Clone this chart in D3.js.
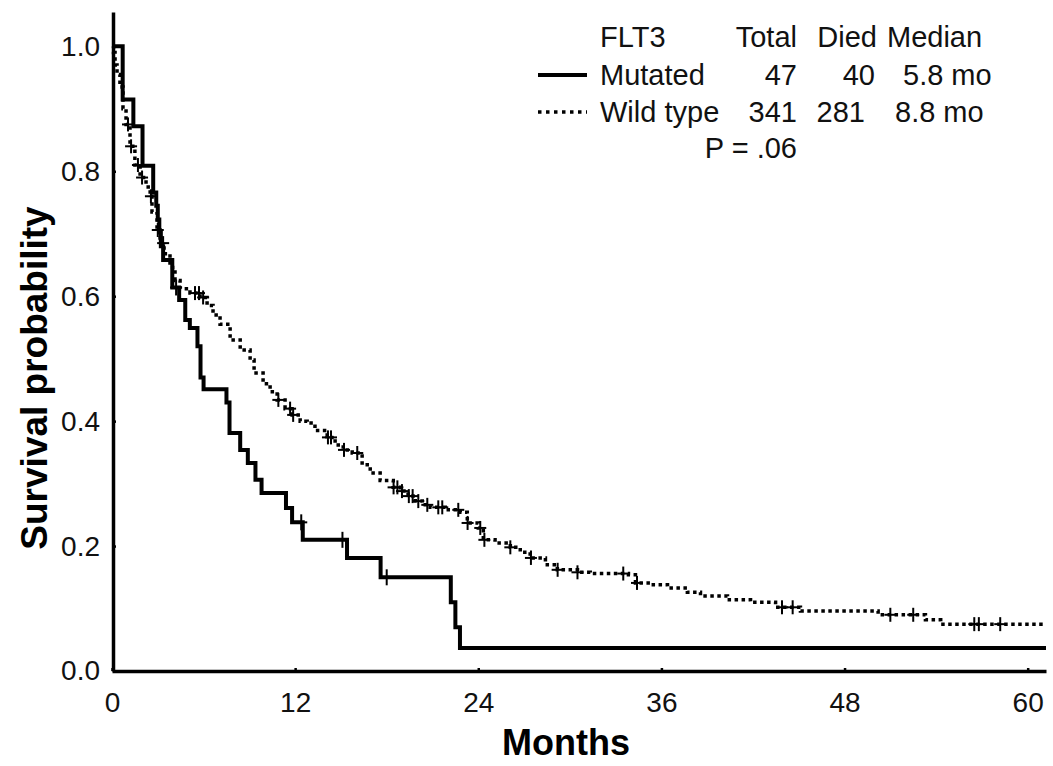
<!DOCTYPE html>
<html>
<head>
<meta charset="utf-8">
<script src="https://cdn.jsdelivr.net/npm/d3@7"></script>
<style>
  body { margin: 0; background: #fff; }
  svg { display: block; font-family: "Liberation Sans", Arial, sans-serif; }
</style>
</head>
<body>
<div id="chart"></div>
<script>
// Mutated (n=47) step curve: event times (months) and survival after each step
const mutTimes = [0, 0.7, 1.4, 2.0, 2.7, 2.9, 3.0, 3.1, 3.2, 3.35, 3.95, 4.4, 4.8, 5.1, 5.6, 5.8, 6.0, 7.5, 7.7, 8.4, 8.9, 9.4, 9.8, 11.4, 11.8, 12.5, 15.4, 17.6, 22.2, 22.5, 22.8];
const mutSurv = [1.0, 0.915, 0.872, 0.809, 0.766, 0.745, 0.723, 0.702, 0.68, 0.658, 0.614, 0.594, 0.562, 0.549, 0.52, 0.47, 0.451, 0.43, 0.381, 0.354, 0.333, 0.306, 0.285, 0.261, 0.238, 0.21, 0.181, 0.15, 0.11, 0.07, 0.037];
const mutCensor = [4.2, 12.4, 15.1, 18.0];

// Wild type (n=341)
const wildTimes = [0, 0.1, 0.2, 0.33, 0.52, 0.72, 0.92, 1.18, 1.5, 1.84, 2.23, 2.5, 2.62, 2.95, 3.15, 3.41, 3.8, 4.13, 4.46, 5.11, 5.77, 6.23, 6.62, 7.08, 7.74, 8.4, 9.05, 9.31, 9.9, 10.36, 10.82, 11.34, 11.8, 12.33, 12.79, 13.3, 14.1, 14.62, 15.15, 15.74, 16.39, 16.92, 17.57, 18.43, 18.9, 19.4, 19.87, 20.33, 20.85, 21.84, 22.82, 23.28, 24.0, 24.33, 25.1, 26.1, 26.75, 27.4, 28.4, 29.18, 30.5, 31.34, 33.84, 34.3, 35.28, 36.4, 37.7, 38.56, 40.33, 41.84, 43.48, 45.11, 50.2, 53.3, 54.3];
const wildSurv = [1.0, 0.99, 0.97, 0.955, 0.935, 0.90, 0.875, 0.84, 0.81, 0.79, 0.775, 0.76, 0.735, 0.706, 0.685, 0.668, 0.646, 0.625, 0.612, 0.605, 0.598, 0.585, 0.57, 0.555, 0.53, 0.514, 0.498, 0.477, 0.46, 0.447, 0.434, 0.42, 0.41, 0.40, 0.397, 0.385, 0.374, 0.362, 0.354, 0.349, 0.33, 0.317, 0.305, 0.294, 0.288, 0.28, 0.272, 0.266, 0.262, 0.258, 0.254, 0.237, 0.229, 0.21, 0.205, 0.198, 0.19, 0.181, 0.17, 0.162, 0.158, 0.156, 0.154, 0.141, 0.138, 0.133, 0.126, 0.12, 0.114, 0.11, 0.102, 0.096, 0.09, 0.082, 0.075];
const wildCensor = [1.05, 1.25, 1.7, 1.97, 2.55, 3.0, 3.35, 5.44, 5.7, 5.97, 10.9, 11.67, 11.87, 14.15, 14.35, 15.2, 16.07, 18.45, 18.7, 19.0, 19.45, 19.7, 20.07, 20.66, 21.38, 21.64, 22.69, 23.3, 24.13, 24.4, 26.1, 27.45, 29.2, 30.5, 33.5, 34.4, 43.9, 44.6, 51.0, 52.5, 56.5, 56.8, 58.2];

const xTicks = [0, 12, 24, 36, 48, 60];
const yTicks = [0, 0.2, 0.4, 0.6, 0.8, 1.0];
const maxMonths = 61.2;

// legend table
const legendHeader = ["FLT3", "Total", "Died", "Median"];
const groups = ["Mutated", "Wild type"];
const totals = [47, 341];
const died = [40, 281];
const medians = ["5.8 mo", "8.8 mo"];
const pText = "P = .06";

const width = 1053, height = 766;
const svg = d3.select('#chart').append('svg')
  .attr('width', width).attr('height', height);

const x = d3.scaleLinear().domain([0, maxMonths]).range([112, 1046]);
const y = d3.scaleLinear().domain([0, 1.055]).range([671, 12]);

// axes
const xAxis = svg.append('g')
  .attr('transform', 'translate(0,671)')
  .call(d3.axisBottom(x).tickValues(xTicks).tickSize(-3).tickSizeOuter(0).tickPadding(21).tickFormat(d3.format('d')));
const yAxis = svg.append('g')
  .attr('transform', 'translate(113,0)')
  .call(d3.axisLeft(y).tickValues(yTicks).tickSize(-3).tickSizeOuter(0).tickPadding(13).tickFormat(d3.format('.1f')));

[xAxis, yAxis].forEach(g => {
  g.select('.domain').attr('stroke', '#000').attr('stroke-width', 3.5);
  g.selectAll('.tick line').attr('stroke', '#000').attr('stroke-width', 2.5);
  g.selectAll('.tick text').attr('fill', '#111').attr('font-size', 28)
    .attr('font-family', '"Liberation Sans", Arial, sans-serif');
});

svg.append('text')
  .attr('x', 566).attr('y', 755)
  .attr('text-anchor', 'middle')
  .attr('font-size', 36).attr('font-weight', 'bold')
  .text('Months');

svg.append('text')
  .attr('transform', 'translate(47,378) rotate(-90)')
  .attr('text-anchor', 'middle')
  .attr('font-size', 37).attr('font-weight', 'bold')
  .text('Survival probability');

// curves
const stepLine = d3.line()
  .x(d => x(d[0]))
  .y(d => y(d[1]))
  .curve(d3.curveStepAfter);

const toPoints = (times, surv) => {
  const pts = times.map((t, i) => [t, surv[i]]);
  pts.push([maxMonths, surv[surv.length - 1]]);
  return pts;
};

const survAt = (times, surv, t) => {
  let v = surv[0];
  times.forEach((tt, i) => { if (tt <= t) v = surv[i]; });
  return v;
};

svg.append('path')
  .datum(toPoints(wildTimes, wildSurv))
  .attr('d', stepLine)
  .attr('fill', 'none')
  .attr('stroke', '#000')
  .attr('stroke-width', 3.5)
  .attr('stroke-dasharray', '3.5,3.5');

svg.append('path')
  .datum(toPoints(mutTimes, mutSurv))
  .attr('d', stepLine)
  .attr('fill', 'none')
  .attr('stroke', '#000')
  .attr('stroke-width', 4);

const drawCensor = (times, surv, marks, halfW, halfH) => {
  const g = svg.append('g').attr('stroke', '#000').attr('stroke-width', 2);
  marks.forEach(t => {
    const cx = x(t), cy = y(survAt(times, surv, t));
    g.append('line').attr('x1', cx - halfW).attr('x2', cx + halfW).attr('y1', cy).attr('y2', cy);
    g.append('line').attr('x1', cx).attr('x2', cx).attr('y1', cy - halfH).attr('y2', cy + halfH);
  });
};
drawCensor(wildTimes, wildSurv, wildCensor, 6, 7);
drawCensor(mutTimes, mutSurv, mutCensor, 6, 8);

// legend
const lg = svg.append('g').attr('font-size', 29).attr('fill', '#111');
const headerX = [600, 797, 877, 887];
const headerAnchor = ['start', 'end', 'end', 'start'];
legendHeader.forEach((h, i) => {
  lg.append('text').attr('x', headerX[i]).attr('y', 47)
    .attr('text-anchor', headerAnchor[i]).text(h);
});

const rowY = [85, 122];
const diedEnd = [875, 865];
const medStart = [903, 895];
groups.forEach((gname, i) => {
  lg.append('text').attr('x', 600).attr('y', rowY[i]).text(gname);
  lg.append('text').attr('x', 797).attr('y', rowY[i]).attr('text-anchor', 'end').text(totals[i]);
  lg.append('text').attr('x', diedEnd[i]).attr('y', rowY[i]).attr('text-anchor', 'end').text(died[i]);
  lg.append('text').attr('x', medStart[i]).attr('y', rowY[i]).text(medians[i]);
});
lg.append('text').attr('x', 797).attr('y', 158).attr('text-anchor', 'end').text(pText);

svg.append('line')
  .attr('x1', 538).attr('x2', 587).attr('y1', 75).attr('y2', 75)
  .attr('stroke', '#000').attr('stroke-width', 4);
svg.append('line')
  .attr('x1', 538).attr('x2', 587).attr('y1', 112).attr('y2', 112)
  .attr('stroke', '#000').attr('stroke-width', 3.5)
  .attr('stroke-dasharray', '3.5,4.5');
</script>
</body>
</html>
